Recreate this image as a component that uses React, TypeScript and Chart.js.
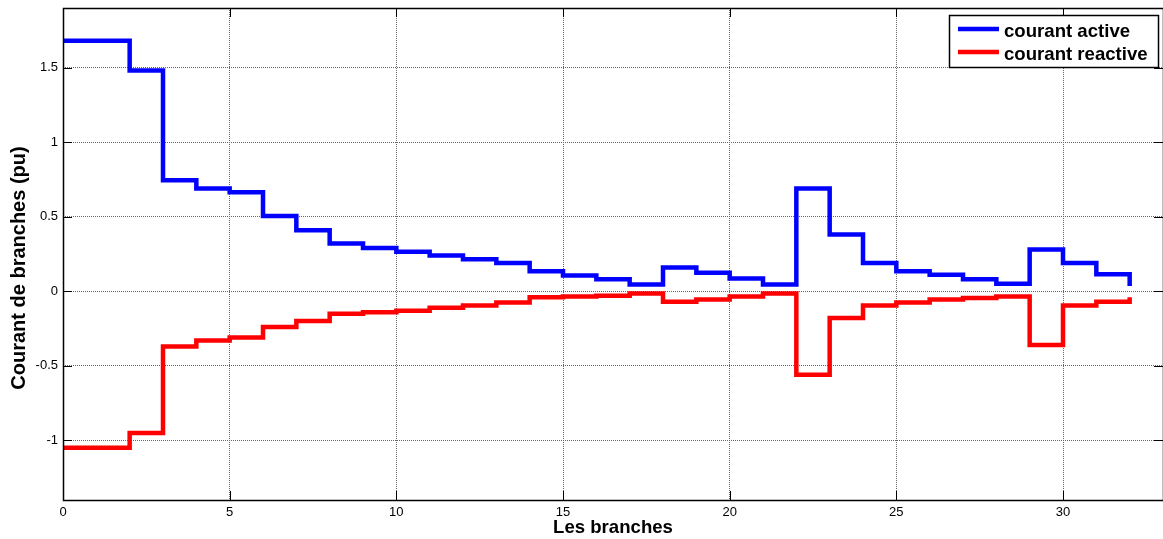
import React, { useEffect, useRef } from 'react';
import { Chart, registerables } from 'chart.js';

Chart.register(...registerables);

// ---- data ----
const branches = [0, 1, 2, 3, 4, 5, 6, 7, 8, 9, 10, 11, 12, 13, 14, 15, 16, 17, 18, 19, 20, 21, 22, 23, 24, 25, 26, 27, 28, 29, 30, 31, 32];
const courantActive = [1.68, 1.68, 1.48, 0.745, 0.69, 0.665, 0.505, 0.41, 0.32, 0.29, 0.265, 0.24, 0.215, 0.19, 0.135, 0.105, 0.08, 0.045, 0.16, 0.125, 0.085, 0.045, 0.69, 0.38, 0.19, 0.135, 0.11, 0.08, 0.05, 0.28, 0.19, 0.115, 0.035];
const courantReactive = [-1.05, -1.05, -0.95, -0.37, -0.33, -0.31, -0.24, -0.2, -0.15, -0.14, -0.13, -0.11, -0.095, -0.075, -0.04, -0.035, -0.03, -0.015, -0.07, -0.055, -0.035, -0.015, -0.56, -0.18, -0.095, -0.075, -0.055, -0.045, -0.035, -0.36, -0.095, -0.07, -0.04];
const seriesLabels = ['courant active', 'courant reactive'];
const seriesColors = ['#0000ff', '#ff0000'];
const xTickValues = [0, 5, 10, 15, 20, 25, 30];
const yTickValues = [-1, -0.5, 0, 0.5, 1, 1.5];
const xRange = [0, 33];
const yRange = [-1.4, 1.9];
const xTitle = 'Les branches';
const yTitle = 'Courant de branches (pu)';

const W = 1163;
const H = 539;
const FONT = 'Arial, "Liberation Sans", Helvetica, sans-serif';

const boxPlugin = {
  id: 'matlabBox',
  afterDatasetsDraw(chart: any) {
    const { ctx, chartArea } = chart;
    const { left, right, top, bottom } = chartArea;
    const xs = chart.scales.x;
    const ys = chart.scales.y;
    ctx.save();
    ctx.strokeStyle = '#000';
    ctx.lineWidth = 1;
    ctx.setLineDash([]);
    ctx.beginPath();
    const tl = 9;
    xTickValues.forEach((v) => {
      const px = Math.round(xs.getPixelForValue(v)) + 0.5;
      ctx.moveTo(px, bottom);
      ctx.lineTo(px, bottom - tl);
      ctx.moveTo(px, top);
      ctx.lineTo(px, top + tl);
    });
    yTickValues.forEach((v) => {
      const py = Math.round(ys.getPixelForValue(v)) + 0.5;
      ctx.moveTo(left, py);
      ctx.lineTo(left + tl, py);
      ctx.moveTo(right, py);
      ctx.lineTo(right - tl, py);
    });
    ctx.stroke();
    ctx.lineWidth = 1.5;
    ctx.strokeRect(Math.round(left) + 0.5, Math.round(top) + 0.5, Math.round(right - left), Math.round(bottom - top));

    // y axis title (MATLAB ylabel)
    ctx.save();
    ctx.translate(19, 268);
    ctx.rotate(-Math.PI / 2);
    ctx.font = `bold 20px ${FONT}`;
    ctx.fillStyle = '#000';
    ctx.textAlign = 'center';
    ctx.textBaseline = 'middle';
    ctx.fillText(yTitle, 0, 0);
    ctx.restore();
    ctx.restore();
  },
};

const legendPlugin = {
  id: 'boxLegend',
  afterDraw(chart: any) {
    const { ctx, chartArea } = chart;
    const w = 209;
    const h = 52;
    const x0 = Math.round(chartArea.right) - 5 - w;
    const y0 = Math.round(chartArea.top) + 7;
    ctx.save();
    ctx.fillStyle = '#fff';
    ctx.fillRect(x0, y0, w, h);
    ctx.strokeStyle = '#000';
    ctx.lineWidth = 1.5;
    ctx.strokeRect(x0 + 0.5, y0 + 0.5, w, h);
    ctx.font = `bold 18.6px ${FONT}`;
    ctx.textBaseline = 'alphabetic';
    ctx.textAlign = 'left';
    chart.data.datasets.forEach((ds: any, i: number) => {
      const ly = y0 + 14 + i * 23;
      ctx.strokeStyle = ds.borderColor;
      ctx.lineWidth = 4.5;
      ctx.beginPath();
      ctx.moveTo(x0 + 9, ly);
      ctx.lineTo(x0 + 50, ly);
      ctx.stroke();
      ctx.fillStyle = '#000';
      ctx.fillText(ds.label, x0 + 55, ly + 7.5);
    });
    ctx.restore();
  },
};

export default function App() {
  const ref = useRef<HTMLCanvasElement | null>(null);

  useEffect(() => {
    if (!ref.current) return;
    const mk = (ys: number[]) => branches.map((x, i) => ({ x, y: ys[i] }));
    const chart = new Chart(ref.current, {
      type: 'line',
      data: {
        datasets: [
          {
            label: seriesLabels[0],
            data: mk(courantActive),
            borderColor: seriesColors[0],
            backgroundColor: seriesColors[0],
            borderWidth: 4.5,
            stepped: 'before',
            pointRadius: 0,
            fill: false,
          },
          {
            label: seriesLabels[1],
            data: mk(courantReactive),
            borderColor: seriesColors[1],
            backgroundColor: seriesColors[1],
            borderWidth: 4.5,
            stepped: 'before',
            pointRadius: 0,
            fill: false,
          },
        ],
      },
      options: {
        animation: false,
        responsive: false,
        maintainAspectRatio: false,
        layout: { padding: { left: 0, top: 8, right: 0, bottom: 0 } },
        plugins: {
          legend: { display: false },
          tooltip: { enabled: false },
        },
        scales: {
          x: {
            type: 'linear',
            min: xRange[0],
            max: xRange[1],
            afterBuildTicks: (scale: any) => {
              scale.ticks = xTickValues.map((v) => ({ value: v }));
            },
            afterFit: (scale: any) => {
              scale.height = 39;
              scale.paddingLeft = 0;
              scale.paddingRight = 0;
              scale.paddingTop = 0;
              scale.paddingBottom = 0;
            },
            ticks: {
              callback: (v: any) => String(v),
              font: { family: FONT, size: 13 },
              color: '#000',
              padding: 5,
              maxRotation: 0,
              autoSkip: false,
            },
            grid: { color: '#666', lineWidth: 1, drawTicks: false },
            border: { display: false, dash: [1, 1] },
            title: {
              display: true,
              text: xTitle,
              font: { family: FONT, size: 18.6, weight: 'bold' },
              color: '#000',
              padding: { top: 0, bottom: 0 },
            },
          },
          y: {
            type: 'linear',
            min: yRange[0],
            max: yRange[1],
            afterBuildTicks: (scale: any) => {
              scale.ticks = yTickValues.map((v) => ({ value: v }));
            },
            afterFit: (scale: any) => {
              scale.width = 63;
              scale.paddingLeft = 0;
              scale.paddingRight = 0;
              scale.paddingTop = 0;
              scale.paddingBottom = 0;
            },
            ticks: {
              callback: (v: any) => String(v),
              font: { family: FONT, size: 13 },
              color: '#000',
              padding: 5,
              autoSkip: false,
            },
            grid: { color: '#666', lineWidth: 1, drawTicks: false },
            border: { display: false, dash: [1, 1] },
          },
        },
      },
      plugins: [boxPlugin, legendPlugin],
    });
    return () => chart.destroy();
  }, []);

  return (
    <div style={{ position: 'absolute', left: 0, top: 0, width: W, height: H, background: '#fff' }}>
      <canvas ref={ref} width={W} height={H} style={{ display: 'block', width: W, height: H }} />
    </div>
  );
}
